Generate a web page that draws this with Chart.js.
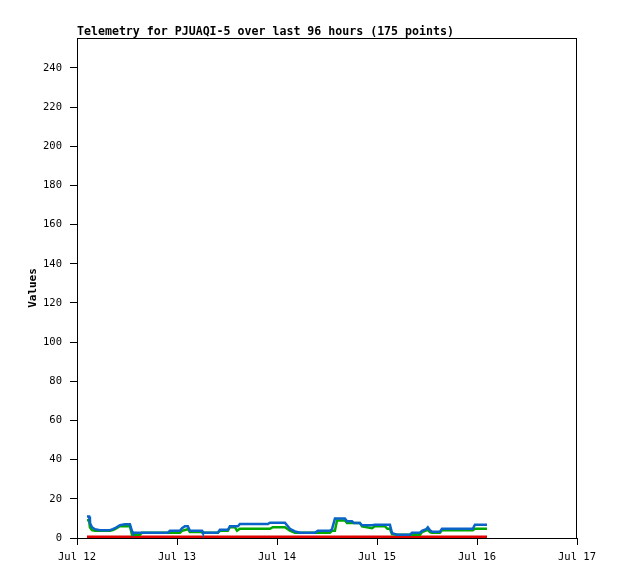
<!DOCTYPE html>
<html>
<head>
<meta charset="utf-8">
<script src="https://cdn.jsdelivr.net/npm/chart.js@4/dist/chart.umd.min.js"></script>
<style>
  html, body { margin: 0; padding: 0; background: #fff; }
</style>
</head>
<body>
<canvas id="telemetry" width="618" height="579"></canvas>
<script>
// hours since Jul 12 00:00
const dayLabels = ['Jul 12', 'Jul 13', 'Jul 14', 'Jul 15', 'Jul 16', 'Jul 17'];
const yTicks = [0, 20, 40, 60, 80, 100, 120, 140, 160, 180, 200, 220, 240];

const blueHours = [2.4, 2.9, 3.1, 3.6, 4.3, 5.5, 7.9, 8.6, 9.1, 10.3, 11.5, 12.7, 13.2, 13.4, 21.8, 22.3, 24.7, 25.2, 25.9, 26.6, 27.1, 30, 30.2, 33.8, 34.3, 36.2, 36.7, 38.6, 39.1, 45.8, 46.3, 49.9, 51.1, 52.3, 53.5, 57.1, 57.8, 60.7, 61.2, 61.9, 64.3, 64.8, 66, 66.5, 67.9, 68.4, 70.8, 71.5, 75.1, 75.6, 76.8, 79.9, 80.4, 82.3, 82.8, 83.8, 84.2, 84.7, 85.2, 87.1, 87.6, 95, 95.5, 98.4];
const blueValues = [11, 11, 7.6, 5.5, 4.5, 4, 4, 4.5, 5, 6.5, 7, 7, 3.5, 2.7, 2.7, 3.7, 3.7, 5, 6, 6, 3.7, 3.7, 2.7, 2.7, 4.2, 4.2, 6, 6, 7.1, 7.1, 7.8, 7.8, 4.7, 3.4, 2.7, 2.7, 3.7, 3.7, 4.5, 9.9, 9.9, 8.5, 8.5, 7.6, 7.6, 6.5, 6.5, 6.8, 6.8, 2.5, 1.7, 1.7, 2.7, 2.7, 3.7, 4.5, 5.5, 4, 3.2, 3.2, 4.7, 4.7, 6.8, 6.8];

const greenHours = [2.4, 2.9, 3.1, 3.6, 4.3, 7.9, 8.6, 9.1, 10.3, 12.7, 13.2, 15.1, 15.6, 24.7, 25.2, 26.6, 27.1, 30, 30.2, 33.8, 34.3, 36.2, 36.7, 37.9, 38.4, 39.1, 46.3, 47, 49.9, 51.1, 52.3, 60.7, 61.2, 61.9, 62.4, 64.3, 64.8, 67.9, 68.4, 70.8, 71.5, 73.9, 74.5, 75.1, 75.6, 76.8, 82.3, 82.8, 84.2, 84.7, 85.2, 87.1, 87.6, 95, 95.5, 98.4];
const greenValues = [9, 9, 5.5, 4, 3.7, 3.7, 4, 4.5, 6, 6, 1.7, 1.7, 2.7, 2.7, 3.7, 4.5, 3, 3, 2.7, 2.7, 3.7, 3.7, 5.5, 5.5, 3.7, 4.7, 4.7, 5.5, 5.5, 3.7, 2.7, 2.7, 3.7, 3.7, 8.9, 8.9, 7.6, 7.6, 6, 5, 6, 6, 4.7, 4.7, 2, 1.7, 1.7, 3, 4.2, 3, 2.7, 2.7, 4, 4, 4.7, 4.7];

const redHours = [2.4, 98.4];
const redValues = [0.7, 0.7];

function toPoints(xs, ys) {
    return xs.map((x, i) => ({ x: x, y: ys[i] }));
}

// titulo, etiqueta del eje y y marco del area
const framePlugin = {
    id: 'frame',
    afterDraw(chart) {
        const ctx = chart.ctx;
        const a = chart.chartArea;
        ctx.save();
        ctx.strokeStyle = '#000';
        ctx.lineWidth = 1;
        ctx.strokeRect(a.left + 0.5, a.top + 0.5, a.right - a.left - 1, a.bottom - a.top);
        ctx.fillStyle = '#000';
        ctx.font = 'bold 11.6px "DejaVu Sans Mono"';
        ctx.textBaseline = 'alphabetic';
        ctx.textAlign = 'left';
        ctx.fillText('Telemetry for PJUAQI-5 over last 96 hours (175 points)', a.left, 35);
        ctx.translate(36, (a.top + a.bottom) / 2);
        ctx.rotate(-Math.PI / 2);
        ctx.textAlign = 'center';
        ctx.font = 'bold 11px "DejaVu Sans Mono"';
        ctx.fillText('Values', 0, 0);
        ctx.restore();
    }
};

const tickFont = { family: 'DejaVu Sans Mono', size: 10.5 };

new Chart(document.getElementById('telemetry'), {
    type: 'line',
    data: {
        datasets: [
            { label: 'blue', data: toPoints(blueHours, blueValues), borderColor: '#0a64c8', borderWidth: 2.5, pointRadius: 0, tension: 0, order: 1 },
            { label: 'green', data: toPoints(greenHours, greenValues), borderColor: '#00a800', borderWidth: 2.5, pointRadius: 0, tension: 0, order: 2 },
            { label: 'red', data: toPoints(redHours, redValues), borderColor: '#e00000', borderWidth: 2.5, pointRadius: 0, tension: 0, order: 3 }
        ]
    },
    options: {
        responsive: false,
        animation: false,
        layout: { padding: { top: 38, right: 41, left: 0, bottom: 0 } },
        plugins: {
            legend: { display: false },
            title: { display: false },
            tooltip: { enabled: false }
        },
        scales: {
            x: {
                type: 'linear',
                min: 0,
                max: 120,
                afterBuildTicks: (s) => { s.ticks = dayLabels.map((_, i) => ({ value: i * 24 })); },
                afterFit: (s) => { s.height = 41; },
                grid: { drawOnChartArea: false, tickLength: 7, color: '#000' },
                border: { color: '#000' },
                ticks: {
                    color: '#000',
                    font: tickFont,
                    padding: 6,
                    maxRotation: 0,
                    callback: (v) => dayLabels[Math.round(v / 24)]
                }
            },
            y: {
                min: 0,
                max: 255.3,
                afterBuildTicks: (s) => { s.ticks = yTicks.map((v) => ({ value: v })); },
                afterFit: (s) => { s.width = 77; },
                grid: { drawOnChartArea: false, tickLength: 7, color: '#000' },
                border: { color: '#000' },
                ticks: { color: '#000', font: tickFont, padding: 8 }
            }
        }
    },
    plugins: [framePlugin]
});
</script>
</body>
</html>
